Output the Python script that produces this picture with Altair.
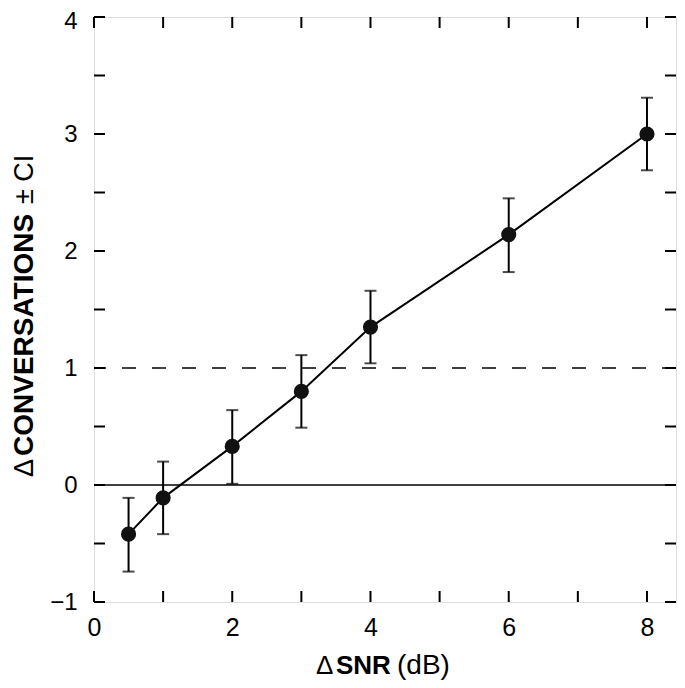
import altair as alt
import pandas as pd

# Data
snr = [0.5, 1, 2, 3, 4, 6, 8]
mean = [-0.42, -0.11, 0.33, 0.80, 1.35, 2.14, 3.00]
ci_lo = [-0.74, -0.42, 0.01, 0.49, 1.04, 1.82, 2.69]
ci_hi = [-0.11, 0.20, 0.64, 1.11, 1.66, 2.45, 3.31]

x_label_values = [0, 2, 4, 6, 8]
y_label_values = [-1, 0, 1, 2, 3, 4]
x_tick_values = [0, 1, 2, 3, 4, 5, 6, 7, 8]
y_tick_values = [-1, -0.5, 0, 0.5, 1, 1.5, 2, 2.5, 3, 3.5, 4]

OX, OY = 94, 17  # page position of plot origin
W, H = 582, 585
TL = 11
FONT = "Liberation Sans"

df = pd.DataFrame({"snr": snr, "mean": mean, "lo": ci_lo, "hi": ci_hi})
xt = pd.DataFrame({"xt": x_tick_values})
yt = pd.DataFrame({"yt": y_tick_values})

xs = alt.Scale(domain=[0, 8.42], nice=False, zero=False)
ys = alt.Scale(domain=[-1, 4], nice=False, zero=False)

xaxis = alt.Axis(values=x_label_values, format="d", title=None, ticks=False, domain=False, grid=False,
                 labelFlush=False, labelFont=FONT, labelFontSize=25, labelPadding=13,
                 labelColor="black")
yaxis = alt.Axis(values=y_label_values, format="d", title=None, ticks=False, domain=False, grid=False,
                 labelFlush=False, labelFont=FONT, labelFontSize=24, labelPadding=17,
                 labelOffset={"condition": {"test": "datum.value == 4", "value": 4}, "value": 0},
                 labelColor="black")

base = alt.Chart(df)

zero = alt.Chart(pd.DataFrame({"v": [0]})).mark_rule(color="black", strokeWidth=1.6).encode(
    y=alt.Y("v:Q", scale=ys, axis=yaxis))
dashed = alt.Chart(pd.DataFrame({"v": [1]})).mark_rule(color="black", strokeWidth=1.6,
                                                        strokeDash=[14, 16]).encode(
    y=alt.Y("v:Q", scale=ys))

stems = base.mark_rule(color="black", strokeWidth=2).encode(
    x=alt.X("snr:Q", scale=xs, axis=xaxis), y=alt.Y("lo:Q", scale=ys), y2="hi:Q")
cap_lo = base.mark_tick(color="black", orient="horizontal", size=12, thickness=2).encode(
    x=alt.X("snr:Q", scale=xs), y=alt.Y("lo:Q", scale=ys))
cap_hi = base.mark_tick(color="black", orient="horizontal", size=12, thickness=2).encode(
    x=alt.X("snr:Q", scale=xs), y=alt.Y("hi:Q", scale=ys))
line = base.mark_line(color="black", strokeWidth=2).encode(
    x=alt.X("snr:Q", scale=xs), y=alt.Y("mean:Q", scale=ys))
pts = base.mark_circle(color="#111111", opacity=1, size=230).encode(
    x=alt.X("snr:Q", scale=xs), y=alt.Y("mean:Q", scale=ys))

tb = alt.Chart(xt).mark_rule(color="black", strokeWidth=2).encode(
    x=alt.X("xt:Q", scale=xs), y=alt.value(H), y2=alt.value(H - TL))
tt = alt.Chart(xt).mark_rule(color="black", strokeWidth=2).encode(
    x=alt.X("xt:Q", scale=xs), y=alt.value(0), y2=alt.value(TL))
tl = alt.Chart(yt).mark_rule(color="black", strokeWidth=2).encode(
    y=alt.Y("yt:Q", scale=ys), x=alt.value(0), x2=alt.value(TL))
tr = alt.Chart(yt).mark_rule(color="black", strokeWidth=2).encode(
    y=alt.Y("yt:Q", scale=ys), x=alt.value(W), x2=alt.value(W - TL))


def txt(s, px, py, weight="normal", size=26, angle=0):
    return alt.Chart(pd.DataFrame({"t": [s]})).mark_text(
        font=FONT, fontSize=size, fontWeight=weight, color="black",
        align="left", baseline="alphabetic", angle=angle).encode(
        text="t:N", x=alt.value(px - OX), y=alt.value(py - OY))


XB = 674
titles = [
    txt("\u0394", 316, XB),
    txt("SNR", 336, XB, weight="bold"),
    txt("(dB)", 397, XB, size=28),
    txt("\u0394", 33, 477, size=27, angle=270),
    txt("CONVERSATIONS", 33, 456, weight="bold", size=28, angle=270),
    txt("\u00b1 CI", 33, 204, size=27, angle=270),
]

chart = alt.layer(zero, dashed, stems, cap_lo, cap_hi, line, pts, tb, tt, tl, tr, *titles).properties(
    width=W, height=H,
    autosize=alt.AutoSizeParams(type="none"),
    padding={"left": OX - 8, "top": OY - 8, "right": 1, "bottom": 78},
).configure_view(stroke="black", strokeWidth=2).configure(background="white")

chart.save("out.html", embed_options={"renderer": "svg", "actions": False})
